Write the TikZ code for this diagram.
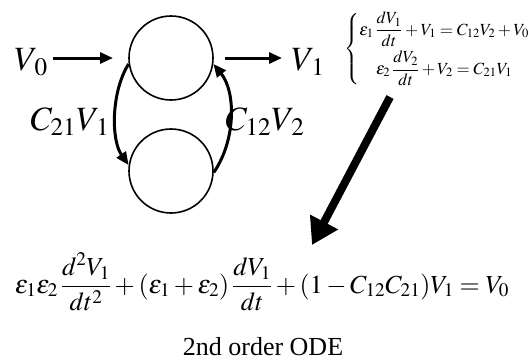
\documentclass[tikz,border=0pt]{standalone}
\usepackage{amsmath}
\usepackage{mathptmx}
\usepackage[no-math]{fontspec}
\setmainfont{Liberation Serif}
\usetikzlibrary{arrows.meta}
\begin{document}
\begin{tikzpicture}[x=1pt,y=-1pt,
  cell/.style={draw,circle,line width=1.6pt,minimum size=84pt,inner sep=0pt},
  flow/.style={line width=3pt,-{Triangle[length=13pt,width=11pt]}},
  big/.style={font=\fontsize{34}{40}\selectfont,inner sep=0pt},
  sys/.style={font=\fontsize{17}{20}\selectfont,inner sep=0pt},
  eqn/.style={font=\fontsize{26}{30}\selectfont,inner sep=0pt},
  fat/.style={line width=8pt,-{Triangle[length=26pt,width=30pt]}}]
\useasboundingbox (0,0) rectangle (531,362);
\node[cell] (top) at (171,58) {};
\node[cell] (bot) at (171,171) {};
\node[big] (v0) at (31,62) {$V_{\,0}$};
\node[big] (v1) at (308,62) {$V_{\,1}$};
\node[big] (c21) at (70,122) {$C_{21}V_{\,1}$};
\node[big] (c12) at (265,122) {$C_{12}V_{\,2}$};
\draw[flow] (v0.east) ++(5,-4) coordinate (s0) -- (113,58) coordinate (e0);
\draw[flow] (225,58) coordinate (s1) -- (282,58) coordinate (e1);
\draw[flow] (top.188) .. controls (111,92) and (111,140) .. (bot.172);
\draw[flow] (bot.-2) .. controls (236,140) and (236,92) .. (top.-8);
\node[sys,anchor=west] (sys) at (344,49) {$\left\{\begin{array}{@{}c@{}}
\varepsilon_1\,\dfrac{dV_1}{dt}+V_1=C_{12}V_2+V_0\\[10pt]
\varepsilon_2\,\dfrac{dV_2}{dt}+V_2=C_{21}V_1
\end{array}\right.$};
\coordinate (a1) at (390,97);
\coordinate (a2) at (312,245);
\draw[fat] (a1) -- (a2);
\node[eqn,anchor=base] (ode) at (262,293) {$\displaystyle\varepsilon_1\varepsilon_2\,\frac{d^2V_1}{dt^2}+(\varepsilon_1+\varepsilon_2)\,\frac{dV_1}{dt}+(1-C_{12}C_{21})V_1=V_0$};
\node[eqn,anchor=base] (lbl) at (263,355) {2nd order ODE};
\end{tikzpicture}
\end{document}
